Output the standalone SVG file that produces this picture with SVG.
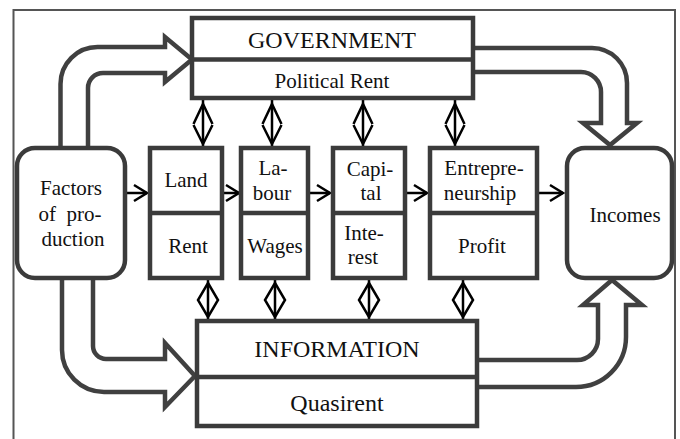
<svg xmlns="http://www.w3.org/2000/svg" width="680" height="439" viewBox="0 0 680 439">
  <style>
    .box { fill: #ffffff; stroke: #3b3b3b; stroke-width: 4.5; }
    .div { stroke: #3b3b3b; stroke-width: 4.5; }
    .band { fill: none; stroke: #404040; stroke-width: 4.5; stroke-linejoin: miter; }
    .thin { fill: none; stroke: #000000; stroke-width: 2.5; }
    text { font-family: "Liberation Serif", "Times New Roman", serif; fill: #111111; text-anchor: middle; }
    .big { font-size: 24px; }
    .lbl { font-size: 21px; }
  </style>
  <defs>
    <!-- open chevron arrow pointing right, tip at origin -->
    <g id="chev">
      <polyline class="thin" points="-13,-8 0,0 -13,8"/>
    </g>
    <!-- double-headed arrow between GOVERNMENT and the factor boxes -->
    <g id="dbl">
      <line class="thin" x1="0" y1="100" x2="0" y2="146"/>
      <polyline class="thin" points="-9.5,124 0,104 9.5,124"/>
      <polyline class="thin" points="-9.5,125 0,144 9.5,125"/>
    </g>
    <!-- diamond link between the factor boxes and INFORMATION -->
    <g id="dia">
      <line class="thin" x1="0" y1="278" x2="0" y2="321"/>
      <polygon class="thin" points="0,283 10,300 0,317 -10,300"/>
    </g>
  </defs>

  <rect x="0" y="0" width="680" height="439" fill="#ffffff"/>
  <!-- frame -->
  <path d="M13.5,445 V10 H675 V445" fill="none" stroke="#555555" stroke-width="2"/>

  <g id="connectors">
    <!-- wide flow arrows -->
    <path class="band" d="M60.5,148 V84 A37,37 0 0 1 97.5,47 H165 V37 L192,59.5 L165,82 V73 H103 A15,15 0 0 0 88,88 V148"/>
    <path class="band" d="M473,48 H592 A35,35 0 0 1 627,83 V123 H637 L610,145 L583,123 H601 V92 A20,20 0 0 0 581,72 H473"/>
    <path class="band" d="M62,278 V350 A42,42 0 0 0 104,392 H165 V407 L195,376 L165,343 V359 H106 A13,13 0 0 1 93,346 V278"/>
    <path class="band" d="M477,360 H577 A21,21 0 0 0 598,339 V305 H583 L612,280 L642,305 H626 V337 A50,50 0 0 1 576,387 H477"/>

    <!-- chain of small arrows -->
    <line class="thin" x1="125" y1="193" x2="147" y2="193"/><use href="#chev" x="147" y="193"/>
    <line class="thin" x1="222" y1="193" x2="239" y2="193"/><use href="#chev" x="239" y="193"/>
    <line class="thin" x1="308" y1="193" x2="330" y2="193"/><use href="#chev" x="330" y="193"/>
    <line class="thin" x1="405" y1="193" x2="427" y2="193"/><use href="#chev" x="427" y="193"/>
    <line class="thin" x1="537" y1="193" x2="563" y2="193"/><use href="#chev" x="563" y="193"/>

    <!-- links to GOVERNMENT -->
    <use href="#dbl" x="203" y="0"/>
    <use href="#dbl" x="272" y="0"/>
    <use href="#dbl" x="363" y="0"/>
    <use href="#dbl" x="455" y="0"/>

    <!-- links to INFORMATION -->
    <use href="#dia" x="208" y="0"/>
    <use href="#dia" x="275" y="0"/>
    <use href="#dia" x="369" y="0"/>
    <use href="#dia" x="463" y="0"/>
  </g>

  <g id="government">
    <rect class="box" x="192" y="18" width="281" height="80"/>
    <line class="div" x1="192" y1="59.5" x2="473" y2="59.5"/>
    <text class="big" x="332" y="48">GOVERNMENT</text>
    <text class="lbl" x="332" y="88">Political Rent</text>
  </g>

  <g id="information">
    <rect class="box" x="197" y="321" width="280" height="105"/>
    <line class="div" x1="197" y1="377" x2="477" y2="377"/>
    <text class="big" x="337" y="357">INFORMATION</text>
    <text class="big" x="337" y="411">Quasirent</text>
  </g>

  <g id="factors">
    <rect class="box" x="17" y="148" width="108" height="130" rx="18"/>
    <text class="lbl" x="71" y="195">Factors</text>
    <text class="lbl" x="70" y="221" xml:space="preserve">of  pro-</text>
    <text class="lbl" x="73" y="246">duction</text>
  </g>

  <g id="land">
    <rect class="box" x="150" y="148" width="72" height="130"/>
    <line class="div" x1="150" y1="213" x2="222" y2="213"/>
    <text class="lbl" x="186" y="187">Land</text>
    <text class="lbl" x="188" y="253">Rent</text>
  </g>

  <g id="labour">
    <rect class="box" x="241" y="148" width="67" height="130"/>
    <line class="div" x1="241" y1="213" x2="308" y2="213"/>
    <text class="lbl" x="273" y="175">La-</text>
    <text class="lbl" x="272" y="200">bour</text>
    <text class="lbl" x="275" y="253">Wages</text>
  </g>

  <g id="capital">
    <rect class="box" x="333" y="148" width="72" height="130"/>
    <line class="div" x1="333" y1="213" x2="405" y2="213"/>
    <text class="lbl" x="370" y="176">Capi-</text>
    <text class="lbl" x="371" y="200">tal</text>
    <text class="lbl" x="364" y="240">Inte-</text>
    <text class="lbl" x="363" y="264">rest</text>
  </g>

  <g id="entrepreneurship">
    <rect class="box" x="430" y="148" width="107" height="130"/>
    <line class="div" x1="430" y1="213" x2="537" y2="213"/>
    <text class="lbl" x="484" y="175">Entrepre-</text>
    <text class="lbl" x="480" y="200">neurship</text>
    <text class="lbl" x="482" y="253">Profit</text>
  </g>

  <g id="incomes">
    <rect class="box" x="567" y="148" width="105" height="130" rx="18"/>
    <text class="lbl" x="625" y="222">Incomes</text>
  </g>
</svg>
